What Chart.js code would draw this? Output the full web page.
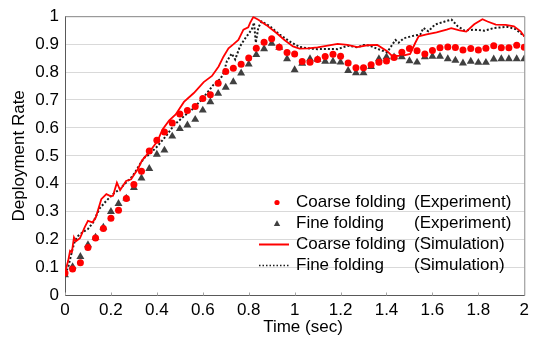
<!DOCTYPE html>
<html>
<head>
<meta charset="utf-8">
<script src="https://cdn.jsdelivr.net/npm/chart.js@4.4.1/dist/chart.umd.min.js"></script>
<style>
  html, body { margin: 0; padding: 0; background: #fff; }
  #wrap { width: 534px; height: 338px; position: relative; }
</style>
</head>
<body>
<div id="wrap"><canvas id="chart"></canvas></div>
<script>
// experiment samples (30 fps)
const expTime = [0, 0.033, 0.067, 0.1, 0.133, 0.167, 0.2, 0.233, 0.267, 0.3,
  0.333, 0.367, 0.4, 0.433, 0.467, 0.5, 0.533, 0.567, 0.6, 0.633,
  0.667, 0.7, 0.733, 0.767, 0.8, 0.833, 0.867, 0.9, 0.933, 0.967,
  1, 1.033, 1.067, 1.1, 1.133, 1.167, 1.2, 1.233, 1.267, 1.3,
  1.333, 1.367, 1.4, 1.433, 1.467, 1.5, 1.533, 1.567, 1.6, 1.633,
  1.667, 1.7, 1.733, 1.767, 1.8, 1.833, 1.867, 1.9, 1.933, 1.967, 2];

const coarseExp = [0.081, 0.095, 0.117, 0.172, 0.206, 0.240, 0.277, 0.305, 0.347, 0.397,
  0.445, 0.517, 0.556, 0.585, 0.618, 0.650, 0.662, 0.677, 0.705, 0.719,
  0.760, 0.802, 0.814, 0.828, 0.850, 0.885, 0.907, 0.919, 0.889, 0.870,
  0.865, 0.838, 0.835, 0.845, 0.856, 0.864, 0.857, 0.832, 0.815, 0.815,
  0.826, 0.835, 0.840, 0.852, 0.871, 0.884, 0.876, 0.865, 0.877, 0.887,
  0.890, 0.888, 0.879, 0.884, 0.879, 0.885, 0.894, 0.887, 0.887, 0.896, 0.889];

const fineExp = [0.074, 0.103, 0.139, 0.181, 0.208, 0.244, 0.300, 0.329, 0.348, 0.386,
  0.420, 0.454, 0.505, 0.520, 0.570, 0.597, 0.610, 0.630, 0.663, 0.693,
  0.723, 0.745, 0.765, 0.796, 0.828, 0.862, 0.883, 0.902, 0.888, 0.847,
  0.808, 0.831, 0.847, 0.845, 0.838, 0.838, 0.835, 0.805, 0.797, 0.797,
  0.819, 0.847, 0.854, 0.854, 0.854, 0.840, 0.835, 0.854, 0.856, 0.856,
  0.847, 0.842, 0.832, 0.838, 0.834, 0.834, 0.846, 0.847, 0.847, 0.847, 0.847];

// simulation curves
const coarseSimTime = [0, 0.014, 0.022, 0.03, 0.039, 0.047, 0.065, 0.086, 0.1, 0.12,
  0.134, 0.158, 0.18, 0.2, 0.209, 0.226, 0.24, 0.266, 0.288, 0.302,
  0.317, 0.335, 0.367, 0.403, 0.424, 0.453, 0.482, 0.518, 0.561, 0.604,
  0.64, 0.669, 0.69, 0.712, 0.734, 0.755, 0.777, 0.798, 0.806, 0.82,
  0.842, 0.877, 0.921, 0.957, 0.993, 1.021, 1.057, 1.1, 1.144, 1.187,
  1.23, 1.273, 1.316, 1.36, 1.403, 1.424, 1.467, 1.503, 1.525, 1.54,
  1.575, 1.618, 1.662, 1.682, 1.718, 1.747, 1.782, 1.818, 1.84, 1.876,
  1.919, 1.955, 1.984, 2];
const coarseSim = [0.083, 0.125, 0.16, 0.155, 0.208, 0.194, 0.205, 0.245, 0.267, 0.262,
  0.279, 0.345, 0.363, 0.355, 0.357, 0.404, 0.377, 0.41, 0.416, 0.434,
  0.452, 0.483, 0.514, 0.553, 0.594, 0.626, 0.648, 0.693, 0.725, 0.764,
  0.786, 0.82, 0.855, 0.885, 0.9, 0.915, 0.952, 0.96, 0.976, 0.997,
  0.987, 0.968, 0.94, 0.914, 0.892, 0.884, 0.885, 0.888, 0.895, 0.901,
  0.897, 0.889, 0.896, 0.897, 0.875, 0.858, 0.858, 0.865, 0.904, 0.928,
  0.935, 0.942, 0.952, 0.957, 0.949, 0.945, 0.971, 0.989, 0.981, 0.97,
  0.969, 0.964, 0.946, 0.927];

const fineSimTime = [0, 0.014, 0.029, 0.043, 0.058, 0.08, 0.1, 0.122, 0.151, 0.18,
  0.209, 0.237, 0.266, 0.295, 0.324, 0.345, 0.367, 0.403, 0.439, 0.475,
  0.518, 0.561, 0.604, 0.647, 0.676, 0.69, 0.705, 0.726, 0.741, 0.762,
  0.784, 0.813, 0.823, 0.831, 0.842, 0.856, 0.892, 0.935, 0.978, 1.021,
  1.057, 1.1, 1.144, 1.187, 1.23, 1.273, 1.302, 1.33, 1.36, 1.403,
  1.439, 1.453, 1.475, 1.518, 1.547, 1.561, 1.582, 1.611, 1.654, 1.683,
  1.71, 1.739, 1.782, 1.826, 1.869, 1.926, 1.962, 1.991, 2];
const fineSim = [0.077, 0.101, 0.154, 0.196, 0.214, 0.228, 0.238, 0.261, 0.312, 0.339,
  0.363, 0.38, 0.404, 0.428, 0.467, 0.493, 0.505, 0.535, 0.57, 0.61,
  0.642, 0.671, 0.71, 0.755, 0.775, 0.795, 0.839, 0.866, 0.845, 0.892,
  0.92, 0.952, 0.977, 0.905, 0.96, 0.981, 0.964, 0.934, 0.91, 0.89,
  0.885, 0.882, 0.883, 0.882, 0.894, 0.889, 0.897, 0.894, 0.883, 0.871,
  0.915, 0.905, 0.921, 0.93, 0.934, 0.958, 0.946, 0.97, 0.981, 0.988,
  0.964, 0.949, 0.952, 0.948, 0.958, 0.962, 0.954, 0.934, 0.928];

const xTicks = [0, 0.2, 0.4, 0.6, 0.8, 1, 1.2, 1.4, 1.6, 1.8, 2];
const yTicks = [0, 0.1, 0.2, 0.3, 0.4, 0.5, 0.6, 0.7, 0.8, 0.9, 1];

const xTitle = "Time (sec)";
const yTitle = "Deployment Rate";
const legendNames = ["Coarse folding", "Fine folding", "Coarse folding", "Fine folding"];
const legendKinds = ["(Experiment)", "(Experiment)", "(Simulation)", "(Simulation)"];

const FONT = "Arial, 'Liberation Sans', sans-serif";

function pairs(xs, ys) {
  return xs.map((x, i) => ({ x: x, y: ys[i] }));
}

// top/right frame and inward x tick marks
const framePlugin = {
  id: "frame",
  beforeDatasetsDraw(chart) {
    const { ctx, chartArea: a, scales } = chart;
    ctx.save();
    ctx.strokeStyle = "#8c8c8c";
    ctx.lineWidth = 1;
    ctx.beginPath();
    ctx.moveTo(a.left, a.top + 0.5);
    ctx.lineTo(a.right + 0.5, a.top + 0.5);
    ctx.lineTo(a.right + 0.5, a.bottom);
    ctx.stroke();
    ctx.strokeStyle = "#a6a6a6";
    ctx.beginPath();
    xTicks.forEach((v) => {
      const px = Math.round(scales.x.getPixelForValue(v)) + 0.5;
      ctx.moveTo(px, a.bottom);
      ctx.lineTo(px, a.bottom - 3);
    });
    ctx.stroke();
    ctx.restore();
  }
};

// x title (slightly right of centre, as in the original) and legend
const legendPlugin = {
  id: "sideLegend",
  afterDraw(chart) {
    const { ctx } = chart;
    const rows = [202.5, 223.5, 244.5, 265.5];
    ctx.save();
    ctx.font = "17px " + FONT;
    ctx.textBaseline = "middle";
    ctx.fillStyle = "#000";
    ctx.textAlign = "center";
    ctx.fillText(xTitle, 303, 327);
    ctx.textAlign = "left";
    rows.forEach((y, i) => {
      ctx.fillText(legendNames[i], 296, y);
      ctx.fillText(legendKinds[i], 414, y);
    });
    // markers
    ctx.fillStyle = "#ff0000";
    ctx.beginPath();
    ctx.arc(277, rows[0], 2.6, 0, Math.PI * 2);
    ctx.fill();
    ctx.fillStyle = "#404040";
    ctx.beginPath();
    ctx.moveTo(277, rows[1] - 3.2);
    ctx.lineTo(280.2, rows[1] + 2.4);
    ctx.lineTo(273.8, rows[1] + 2.4);
    ctx.closePath();
    ctx.fill();
    ctx.strokeStyle = "#ff0000";
    ctx.lineWidth = 2;
    ctx.beginPath();
    ctx.moveTo(259, rows[2]);
    ctx.lineTo(289, rows[2]);
    ctx.stroke();
    ctx.strokeStyle = "#1a1a1a";
    ctx.setLineDash([1.5, 2]);
    ctx.lineWidth = 1.5;
    ctx.beginPath();
    ctx.moveTo(259, rows[3]);
    ctx.lineTo(289, rows[3]);
    ctx.stroke();
    ctx.restore();
  }
};

new Chart(document.getElementById("chart"), {
  type: "scatter",
  data: {
    datasets: [
      {
        label: legendNames[0] + " " + legendKinds[0],
        data: pairs(expTime, coarseExp),
        pointStyle: "circle",
        pointRadius: 3.5,
        pointBorderWidth: 0,
        backgroundColor: "#ff0000",
        borderColor: "#ff0000",
        showLine: false,
        order: 1
      },
      {
        label: legendNames[1] + " " + legendKinds[1],
        data: pairs(expTime, fineExp),
        pointStyle: "triangle",
        pointRadius: 4.6,
        pointBorderWidth: 0,
        backgroundColor: "#404040",
        borderColor: "#404040",
        showLine: false,
        order: 2
      },
      {
        label: legendNames[2] + " " + legendKinds[2],
        data: pairs(coarseSimTime, coarseSim),
        showLine: true,
        pointRadius: 0,
        borderColor: "#ff0000",
        borderWidth: 1.8,
        tension: 0,
        order: 3
      },
      {
        label: legendNames[3] + " " + legendKinds[3],
        data: pairs(fineSimTime, fineSim),
        showLine: true,
        pointRadius: 0,
        borderColor: "#1a1a1a",
        borderWidth: 2,
        borderDash: [2, 2],
        tension: 0,
        order: 4
      }
    ]
  },
  options: {
    responsive: true,
    maintainAspectRatio: false,
    animation: false,
    layout: { padding: { top: 14, right: 5, left: 0, bottom: 0 } },
    plugins: {
      legend: { display: false },
      tooltip: { enabled: false }
    },
    scales: {
      x: {
        type: "linear",
        min: 0,
        max: 2,
        afterBuildTicks: (s) => { s.ticks = xTicks.map((v) => ({ value: v })); },
        afterFit: (s) => { s.height = 42.5; },
        grid: { display: false, drawTicks: false },
        border: { color: "#595959", width: 1 },
        ticks: {
          color: "#000",
          font: { size: 17, family: FONT },
          padding: 5,
          maxRotation: 0,
          autoSkip: false,
          callback: (v) => String(v)
        },
        title: { display: false }
      },
      y: {
        type: "linear",
        min: 0,
        max: 1,
        afterBuildTicks: (s) => { s.ticks = yTicks.map((v) => ({ value: v })); },
        afterFit: (s) => { s.width = 65; },
        grid: { color: "#d9d9d9", drawTicks: false },
        border: { color: "#595959", width: 1 },
        ticks: {
          color: "#000",
          font: { size: 17, family: FONT },
          padding: 6,
          callback: (v) => String(v)
        },
        title: {
          display: true,
          text: yTitle,
          color: "#000",
          font: { size: 17, family: FONT },
          padding: { top: 9, bottom: 0 }
        }
      }
    }
  },
  plugins: [framePlugin, legendPlugin]
});
</script>
</body>
</html>
